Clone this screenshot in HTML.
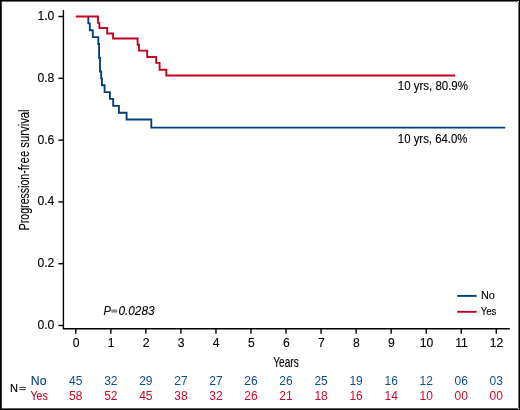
<!DOCTYPE html>
<html><head><meta charset="utf-8"><style>
html,body{margin:0;padding:0;background:#fff;}
body{width:520px;height:410px;overflow:hidden;font-family:"Liberation Sans",sans-serif;}
svg{display:block;will-change:transform;}
</style></head><body>
<svg width="520" height="410" viewBox="0 0 520 410">
<rect x="0.5" y="0.5" width="519" height="409" fill="none" stroke="#000" stroke-width="1"/>
<path d="M1.5,1 V409" stroke="#404040" stroke-width="1"/>
<path d="M2,1.5 H518" stroke="#707070" stroke-width="1"/>
<path d="M518.5,2 V408" stroke="#7a7a7a" stroke-width="1"/>
<path d="M2,408.5 H518" stroke="#606060" stroke-width="1"/>
<g stroke="#000" stroke-width="1.4" fill="none">
<path d="M63.4,10.1 V328.7 H509.8"/>
<path d="M58.4,16.5 H63.4"/>
<path d="M58.4,78.3 H63.4"/>
<path d="M58.4,140.1 H63.4"/>
<path d="M58.4,201.9 H63.4"/>
<path d="M58.4,263.7 H63.4"/>
<path d="M58.4,325.5 H63.4"/>
<path d="M75.80,328.7 V333.8"/>
<path d="M110.84,328.7 V333.8"/>
<path d="M145.88,328.7 V333.8"/>
<path d="M180.92,328.7 V333.8"/>
<path d="M215.96,328.7 V333.8"/>
<path d="M251.00,328.7 V333.8"/>
<path d="M286.04,328.7 V333.8"/>
<path d="M321.08,328.7 V333.8"/>
<path d="M356.12,328.7 V333.8"/>
<path d="M391.16,328.7 V333.8"/>
<path d="M426.20,328.7 V333.8"/>
<path d="M461.24,328.7 V333.8"/>
<path d="M496.28,328.7 V333.8"/>
</g>
<path d="M88.3,16.6 V23.4 H89.8 V30.2 H92.8 V37.1 H98.3 V44.0 H99.1 V57.7 H100.0 V71.5 H101.2 V78.3 H101.9 V85.2 H104.6 V92.1 H109.9 V98.9 H113.2 V105.8 H118.9 V112.7 H126.6 V119.5 H151.3 V127.6 H505.2" fill="none" stroke="#003f79" stroke-width="1.85"/>
<path d="M75.8,16.5 H98.0 V22.8 H99.4 V28.0 H107.2 V33.5 H113.1 V38.5 H137.6 V44.7 H139.0 V50.6 H147.2 V57.0 H156.2 V62.9 H159.6 V69.7 H166.3 V75.5 H455.2" fill="none" stroke="#c2001f" stroke-width="1.85"/>
<g font-family="Liberation Sans" font-size="12.2" fill="#000" stroke="#000" stroke-width="0.12" text-anchor="end">
<text x="54.4" y="19.95">1.0</text>
<text x="54.4" y="81.75">0.8</text>
<text x="54.4" y="143.55">0.6</text>
<text x="54.4" y="205.35">0.4</text>
<text x="54.4" y="267.15">0.2</text>
<text x="54.4" y="328.95">0.0</text>
</g>
<g font-family="Liberation Sans" font-size="12.2" fill="#000" stroke="#000" stroke-width="0.12" text-anchor="middle">
<text x="76.10" y="346.9">0</text>
<text x="111.14" y="346.9">1</text>
<text x="146.18" y="346.9">2</text>
<text x="181.22" y="346.9">3</text>
<text x="216.26" y="346.9">4</text>
<text x="251.30" y="346.9">5</text>
<text x="286.34" y="346.9">6</text>
<text x="321.38" y="346.9">7</text>
<text x="356.42" y="346.9">8</text>
<text x="391.46" y="346.9">9</text>
<text x="426.50" y="346.9">10</text>
<text x="461.54" y="346.9">11</text>
<text x="496.58" y="346.9">12</text>
</g>
<text x="273.2" y="366.6" font-family="Liberation Sans" font-size="15.2" fill="#000" stroke="#000" stroke-width="0.12" textLength="25.6" lengthAdjust="spacingAndGlyphs">Years</text>
<text transform="translate(28.9,230.2) rotate(-90)" x="0" y="0" font-family="Liberation Sans" font-size="14.2" fill="#000" stroke="#000" stroke-width="0.12" textLength="59.9" lengthAdjust="spacingAndGlyphs">Progression-</text>
<text transform="translate(28.9,170.3) rotate(-90)" x="0" y="0" font-family="Liberation Sans" font-size="14.2" fill="#000" stroke="#000" stroke-width="0.12" textLength="60.9" lengthAdjust="spacingAndGlyphs">free survival</text>
<text x="397.8" y="90.2" font-family="Liberation Sans" font-size="12" fill="#000" stroke="#000" stroke-width="0.12" textLength="70.1" lengthAdjust="spacingAndGlyphs">10 yrs, 80.9%</text>
<text x="397.8" y="142.6" font-family="Liberation Sans" font-size="12" fill="#000" stroke="#000" stroke-width="0.12" textLength="69.7" lengthAdjust="spacingAndGlyphs">10 yrs, 64.0%</text>
<text x="103.6" y="314.6" font-family="Liberation Sans" font-style="italic" font-size="12.6" fill="#000" stroke="#000" stroke-width="0.12" textLength="7.4" lengthAdjust="spacingAndGlyphs">P</text>
<rect x="111.2" y="309.4" width="6" height="3.2" fill="#8a8a8a"/>
<text x="118.4" y="314.6" font-family="Liberation Sans" font-style="italic" font-size="12.8" fill="#000" stroke="#000" stroke-width="0.12" textLength="36.2" lengthAdjust="spacingAndGlyphs">0.0283</text>
<path d="M457.2,295.9 H476.6" stroke="#003f79" stroke-width="1.9"/>
<path d="M457.2,311.8 H476.6" stroke="#c2001f" stroke-width="1.9"/>
<text x="481.0" y="299.1" font-family="Liberation Sans" font-size="11.2" fill="#000" stroke="#000" stroke-width="0.12" textLength="13.9" lengthAdjust="spacingAndGlyphs">No</text>
<text x="480.7" y="315.0" font-family="Liberation Sans" font-size="11.2" fill="#000" stroke="#000" stroke-width="0.12" textLength="15.7" lengthAdjust="spacingAndGlyphs">Yes</text>
<text x="9.9" y="391.7" font-family="Liberation Sans" font-size="11.6" fill="#000" stroke="#000" stroke-width="0.12" textLength="8.0" lengthAdjust="spacingAndGlyphs">N</text>
<rect x="19.4" y="386.9" width="6.4" height="0.9" fill="#1a1a1a"/><rect x="19.4" y="389.2" width="6.4" height="0.9" fill="#1a1a1a"/>
<text x="30.8" y="384.6" font-family="Liberation Sans" font-size="12" fill="#003f79" stroke="#003f79" stroke-width="0.1" textLength="15.7" lengthAdjust="spacingAndGlyphs">No</text>
<text x="30.4" y="399.5" font-family="Liberation Sans" font-size="12" fill="#c2001f" stroke="#c2001f" stroke-width="0.1" textLength="17.4" lengthAdjust="spacingAndGlyphs">Yes</text>
<g font-family="Liberation Sans" font-size="12" text-anchor="middle" stroke-width="0">
<text x="75.80" y="384.6" fill="#0c4e8c">45</text>
<text x="75.80" y="399.5" fill="#c80a2c">58</text>
<text x="110.84" y="384.6" fill="#0c4e8c">32</text>
<text x="110.84" y="399.5" fill="#c80a2c">52</text>
<text x="145.88" y="384.6" fill="#0c4e8c">29</text>
<text x="145.88" y="399.5" fill="#c80a2c">45</text>
<text x="180.92" y="384.6" fill="#0c4e8c">27</text>
<text x="180.92" y="399.5" fill="#c80a2c">38</text>
<text x="215.96" y="384.6" fill="#0c4e8c">27</text>
<text x="215.96" y="399.5" fill="#c80a2c">32</text>
<text x="251.00" y="384.6" fill="#0c4e8c">26</text>
<text x="251.00" y="399.5" fill="#c80a2c">26</text>
<text x="286.04" y="384.6" fill="#0c4e8c">26</text>
<text x="286.04" y="399.5" fill="#c80a2c">21</text>
<text x="321.08" y="384.6" fill="#0c4e8c">25</text>
<text x="321.08" y="399.5" fill="#c80a2c">18</text>
<text x="356.12" y="384.6" fill="#0c4e8c">19</text>
<text x="356.12" y="399.5" fill="#c80a2c">16</text>
<text x="391.16" y="384.6" fill="#0c4e8c">16</text>
<text x="391.16" y="399.5" fill="#c80a2c">14</text>
<text x="426.20" y="384.6" fill="#0c4e8c">12</text>
<text x="426.20" y="399.5" fill="#c80a2c">10</text>
<text x="461.24" y="384.6" fill="#0c4e8c">06</text>
<text x="461.24" y="399.5" fill="#c80a2c">00</text>
<text x="496.28" y="384.6" fill="#0c4e8c">03</text>
<text x="496.28" y="399.5" fill="#c80a2c">00</text>
</g>
</svg>
</body></html>
